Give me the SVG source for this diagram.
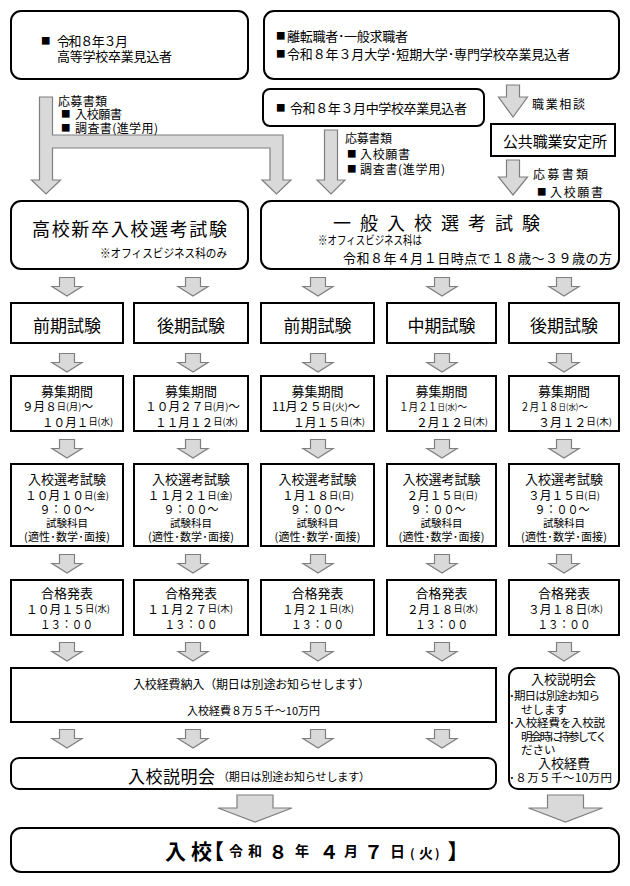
<svg xmlns="http://www.w3.org/2000/svg" xmlns:xlink="http://www.w3.org/1999/xlink" width="630" height="886" viewBox="0 0 630 886">
<style>
text{font-family:"Noto Sans CJK JP","Noto Sans",sans-serif;fill:#000;dominant-baseline:central;font-size:12px}
.box{fill:#fff;stroke:#000;stroke-width:2}
.arr{fill:#d9d9d9;stroke:#7f7f7f;stroke-width:1.2}
.m{text-anchor:middle}
.st{font-size:17px}
.t13{font-size:13px}
.d{font-size:12px}
.dn{font-size:11px}
.s{font-size:9.5px}
.sn{font-size:8.5px}
.sq{font-size:9.5px}
.big{font-size:18px}
.fin{font-weight:bold;font-size:14px}
.br{font-size:21px;font-feature-settings:"palt"}
.dg{font-size:19px}
</style>
<defs>
<path id="sa" class="arr" d="M-7.5,0H7.5V9H15L0,18.5L-15,9H-7.5Z"/>
<path id="ba" class="arr" d="M-18,0H18V13H37L0,27L-37,13H-18Z"/>
</defs>
<rect width="630" height="886" fill="#fff"/>

<g id="connectors">
<path class="arr" d="M39.5,97H52.5V135H283V180H291L276.5,194L262,180H270V148H52.5V180H60.5L46,194L31.5,180H39.5Z"/>
<path class="arr" d="M324.5,130H337.5V180H345L331,194L317,180H324.5Z"/>
<path class="arr" d="M506.5,85H519.5V97H527.5L513,117L498.5,97H506.5Z"/>
<path class="arr" d="M506.5,160H519.5V177H527.5L513,195L498.5,177H506.5Z"/>
<use xlink:href="#sa" x="67" y="277.5"/><use xlink:href="#sa" x="193" y="277.5"/><use xlink:href="#sa" x="318" y="277.5"/><use xlink:href="#sa" x="442" y="277.5"/><use xlink:href="#sa" x="564" y="277.5"/>
<use xlink:href="#sa" x="67" y="353.5"/><use xlink:href="#sa" x="193" y="353.5"/><use xlink:href="#sa" x="318" y="353.5"/><use xlink:href="#sa" x="442" y="353.5"/><use xlink:href="#sa" x="564" y="353.5"/>
<use xlink:href="#sa" x="67" y="439.5"/><use xlink:href="#sa" x="193" y="439.5"/><use xlink:href="#sa" x="318" y="439.5"/><use xlink:href="#sa" x="442" y="439.5"/><use xlink:href="#sa" x="564" y="439.5"/>
<use xlink:href="#sa" x="67" y="554.5"/><use xlink:href="#sa" x="193" y="554.5"/><use xlink:href="#sa" x="318" y="554.5"/><use xlink:href="#sa" x="442" y="554.5"/><use xlink:href="#sa" x="564" y="554.5"/>
<use xlink:href="#sa" x="67" y="642.5"/><use xlink:href="#sa" x="193" y="642.5"/><use xlink:href="#sa" x="318" y="642.5"/><use xlink:href="#sa" x="442" y="642.5"/><use xlink:href="#sa" x="564" y="642.5"/>
<use xlink:href="#sa" x="67" y="729.5"/><use xlink:href="#sa" x="193" y="729.5"/><use xlink:href="#sa" x="318" y="729.5"/><use xlink:href="#sa" x="442" y="729.5"/>
<use xlink:href="#ba" x="255" y="795"/><use xlink:href="#ba" x="565.5" y="795"/>
<text x="58" y="100" textLength="49">応募書類</text>
<text y="112.5"><tspan class="sq" x="61">■</tspan><tspan x="75" textLength="47">入校願書</tspan></text>
<text y="127"><tspan class="sq" x="61">■</tspan><tspan x="75" textLength="83">調査書(進学用)</tspan></text>
<text x="345" y="137" textLength="47">応募書類</text>
<text y="153"><tspan class="sq" x="347">■</tspan><tspan x="360" textLength="50">入校願書</tspan></text>
<text y="168"><tspan class="sq" x="347">■</tspan><tspan x="360" textLength="85">調査書(進学用)</tspan></text>
<text x="532" y="103" textLength="53">職業相談</text>
<text x="533" y="173" textLength="55">応募書類</text>
<text y="191"><tspan class="sq" x="537">■</tspan><tspan x="550" textLength="53">入校願書</tspan></text>
</g>

<g id="n-koukou">
<rect class="box" x="11" y="11" width="237" height="68" rx="10"/>
<text class="t13" y="40"><tspan class="sq" x="41">■</tspan><tspan x="57" textLength="71">令和８年３月</tspan></text>
<text class="t13" x="57" y="55.5" textLength="115">高等学校卒業見込者</text>
</g>
<g id="n-ippan">
<rect class="box" x="264" y="11" width="355" height="68" rx="10"/>
<text class="t13" y="35"><tspan class="sq" x="276">■</tspan><tspan x="287" textLength="121">離転職者･一般求職者</tspan></text>
<text class="t13" y="53"><tspan class="sq" x="276">■</tspan><tspan x="287" textLength="283">令和８年３月大学･短期大学･専門学校卒業見込者</tspan></text>
</g>
<g id="n-chugaku">
<rect class="box" x="263" y="89" width="221" height="37" rx="7"/>
<text class="t13" y="107"><tspan class="sq" x="276">■</tspan><tspan x="290" textLength="177">令和８年３月中学校卒業見込者</tspan></text>
</g>
<g id="n-hellowork">
<rect class="box" x="491" y="124" width="124" height="32"/>
<text x="503" y="140" style="font-size:15px" textLength="104">公共職業安定所</text>
</g>

<g id="n-h1">
<rect class="box" x="11" y="201" width="237" height="68" rx="10"/>
<text class="big" x="32" y="228" textLength="195">高校新卒入校選考試験</text>
<text x="100" y="252" textLength="127" lengthAdjust="spacingAndGlyphs">※オフィスビジネス科のみ</text>
</g>
<g id="n-h2">
<rect class="box" x="261" y="201" width="358" height="68" rx="10"/>
<text class="big" x="333" y="222" textLength="207">一般入校選考試験</text>
<text x="318" y="239.5" textLength="104" lengthAdjust="spacingAndGlyphs">※オフィスビジネス科は</text>
<text class="t13" x="343" y="257" textLength="269">令和８年４月１日時点で１８歳～３９歳の方</text>
</g>

<g id="n-s1"><rect class="box" x="11" y="303" width="112" height="40"/><text class="st m" x="67" y="324.5">前期試験</text></g>
<g id="n-s2"><rect class="box" x="134" y="303" width="114" height="40"/><text class="st m" x="191" y="324.5">後期試験</text></g>
<g id="n-s3"><rect class="box" x="261" y="303" width="113" height="40"/><text class="st m" x="317.5" y="324.5">前期試験</text></g>
<g id="n-s4"><rect class="box" x="387" y="303" width="109" height="40"/><text class="st m" x="441.5" y="324.5">中期試験</text></g>
<g id="n-s5"><rect class="box" x="509" y="303" width="110" height="40"/><text class="st m" x="564" y="324.5">後期試験</text></g>

<g id="n-b1"><rect class="box" x="11" y="376" width="112" height="55"/>
<text class="t13 m" x="67" y="390">募集期間</text>
<text class="d" x="22" y="405.5" textLength="71" lengthAdjust="spacingAndGlyphs">９月８<tspan class="s">日(月)</tspan>～</text>
<text class="d" x="42" y="421" textLength="71" lengthAdjust="spacingAndGlyphs">１０月１<tspan class="s">日(水)</tspan></text></g>
<g id="n-b2"><rect class="box" x="134" y="376" width="114" height="55"/>
<text class="t13 m" x="191" y="390">募集期間</text>
<text class="d" x="145" y="405.5" textLength="95" lengthAdjust="spacingAndGlyphs">１０月２７<tspan class="s">日(月)</tspan>～</text>
<text class="d" x="155" y="421" textLength="83" lengthAdjust="spacingAndGlyphs">１１月１２<tspan class="s">日(水)</tspan></text></g>
<g id="n-b3"><rect class="box" x="261" y="376" width="113" height="55"/>
<text class="t13 m" x="317.5" y="390">募集期間</text>
<text class="d" x="272" y="405.5" textLength="88" lengthAdjust="spacingAndGlyphs">11月２５<tspan class="s">日(火)</tspan>～</text>
<text class="d" x="293" y="421" textLength="72" lengthAdjust="spacingAndGlyphs">１月１５<tspan class="s">日(木)</tspan></text></g>
<g id="n-b4"><rect class="box" x="387" y="376" width="109" height="55"/>
<text class="t13 m" x="441.5" y="390">募集期間</text>
<text class="dn" x="399" y="405.5" textLength="68" lengthAdjust="spacingAndGlyphs">１月２１<tspan class="sn">日(水)</tspan>～</text>
<text class="d" x="416" y="421" textLength="72" lengthAdjust="spacingAndGlyphs">２月１２<tspan class="s">日(木)</tspan></text></g>
<g id="n-b5"><rect class="box" x="509" y="376" width="110" height="55"/>
<text class="t13 m" x="564" y="390">募集期間</text>
<text class="dn" x="520" y="405.5" textLength="68" lengthAdjust="spacingAndGlyphs">２月１８<tspan class="sn">日(水)</tspan>～</text>
<text class="d" x="538" y="421" textLength="74" lengthAdjust="spacingAndGlyphs">３月１２<tspan class="s">日(木)</tspan></text></g>

<g id="n-e1"><rect class="box" x="11" y="464" width="112" height="82"/>
<text class="t13 m" x="67" y="478">入校選考試験</text>
<text class="d m" x="67" y="494.5" textLength="84" lengthAdjust="spacingAndGlyphs">１０月１０<tspan class="s">日(金)</tspan></text>
<text class="d m" x="67" y="508.5" textLength="55" lengthAdjust="spacingAndGlyphs">９：００～</text>
<text class="m" x="67" y="522" style="font-size:10.5px">試験科目</text>
<text class="m" x="67" y="536" textLength="86" style="font-size:11px">(適性･数学･面接)</text></g>
<g id="n-e2"><rect class="box" x="134" y="464" width="114" height="82"/>
<text class="t13 m" x="191" y="478">入校選考試験</text>
<text class="d m" x="190" y="494.5" textLength="85" lengthAdjust="spacingAndGlyphs">１１月２１<tspan class="s">日(金)</tspan></text>
<text class="d m" x="191" y="508.5" textLength="55" lengthAdjust="spacingAndGlyphs">９：００～</text>
<text class="m" x="191" y="522" style="font-size:10.5px">試験科目</text>
<text class="m" x="191" y="536" textLength="86" style="font-size:11px">(適性･数学･面接)</text></g>
<g id="n-e3"><rect class="box" x="261" y="464" width="113" height="82"/>
<text class="t13 m" x="317.5" y="478">入校選考試験</text>
<text class="d m" x="318" y="494.5" textLength="72" lengthAdjust="spacingAndGlyphs">１月１８<tspan class="s">日(日)</tspan></text>
<text class="d m" x="317.5" y="508.5" textLength="55" lengthAdjust="spacingAndGlyphs">９：００～</text>
<text class="m" x="317.5" y="522" style="font-size:10.5px">試験科目</text>
<text class="m" x="317.5" y="536" textLength="86" style="font-size:11px">(適性･数学･面接)</text></g>
<g id="n-e4"><rect class="box" x="387" y="464" width="109" height="82"/>
<text class="t13 m" x="441.5" y="478">入校選考試験</text>
<text class="d m" x="442" y="494.5" textLength="71" lengthAdjust="spacingAndGlyphs">２月１５<tspan class="s">日(日)</tspan></text>
<text class="d m" x="438" y="508.5" textLength="55" lengthAdjust="spacingAndGlyphs">９：００～</text>
<text class="m" x="441.5" y="522" style="font-size:10.5px">試験科目</text>
<text class="m" x="441.5" y="536" textLength="86" style="font-size:11px">(適性･数学･面接)</text></g>
<g id="n-e5"><rect class="box" x="509" y="464" width="110" height="82"/>
<text class="t13 m" x="564" y="478">入校選考試験</text>
<text class="d m" x="564" y="494.5" textLength="72" lengthAdjust="spacingAndGlyphs">３月１５<tspan class="s">日(日)</tspan></text>
<text class="d m" x="562" y="508.5" textLength="55" lengthAdjust="spacingAndGlyphs">９：００～</text>
<text class="m" x="564" y="522" style="font-size:10.5px">試験科目</text>
<text class="m" x="564" y="536" textLength="86" style="font-size:11px">(適性･数学･面接)</text></g>

<g id="n-p1"><rect class="box" x="11" y="580" width="112" height="55"/>
<text class="t13 m" x="67" y="592">合格発表</text>
<text class="d m" x="68" y="608" textLength="84" lengthAdjust="spacingAndGlyphs">１０月１５<tspan class="s">日(水)</tspan></text>
<text class="d m" x="66.5" y="623" textLength="53" lengthAdjust="spacingAndGlyphs">１３：００</text></g>
<g id="n-p2"><rect class="box" x="134" y="580" width="114" height="55"/>
<text class="t13 m" x="191" y="592">合格発表</text>
<text class="d m" x="190" y="608" textLength="86" lengthAdjust="spacingAndGlyphs">１１月２７<tspan class="s">日(木)</tspan></text>
<text class="d m" x="191" y="623" textLength="53" lengthAdjust="spacingAndGlyphs">１３：００</text></g>
<g id="n-p3"><rect class="box" x="261" y="580" width="113" height="55"/>
<text class="t13 m" x="317.5" y="592">合格発表</text>
<text class="d m" x="318" y="608" textLength="72" lengthAdjust="spacingAndGlyphs">１月２１<tspan class="s">日(水)</tspan></text>
<text class="d m" x="317.5" y="623" textLength="53" lengthAdjust="spacingAndGlyphs">１３：００</text></g>
<g id="n-p4"><rect class="box" x="387" y="580" width="109" height="55"/>
<text class="t13 m" x="441.5" y="592">合格発表</text>
<text class="d m" x="442.5" y="608" textLength="71" lengthAdjust="spacingAndGlyphs">２月１８<tspan class="s">日(水)</tspan></text>
<text class="d m" x="441.5" y="623" textLength="53" lengthAdjust="spacingAndGlyphs">１３：００</text></g>
<g id="n-p5"><rect class="box" x="509" y="580" width="110" height="55"/>
<text class="t13 m" x="564" y="592">合格発表</text>
<text class="d m" x="565.5" y="608" textLength="75" lengthAdjust="spacingAndGlyphs">３月１８日<tspan class="s">(水)</tspan></text>
<text class="d m" x="564" y="623" textLength="53" lengthAdjust="spacingAndGlyphs">１３：００</text></g>

<g id="n-fee">
<rect class="box" x="11" y="668" width="485" height="54"/>
<text x="133" y="683.5" textLength="237">入校経費納入（期日は別途お知らせします）</text>
<text x="187" y="710" textLength="133" style="font-size:11px">入校経費８万５千～10万円</text>
</g>
<g id="n-setsumei">
<rect class="box" x="11" y="758" width="485" height="31" rx="8"/>
<text x="128" y="775" textLength="87" style="font-size:17px">入校説明会</text>
<text x="218" y="775.5" textLength="152" style="font-size:11px">（期日は別途お知らせします）</text>
</g>
<g id="n-setsumei2">
<rect class="box" x="509" y="668" width="110" height="121" rx="9"/>
<text class="t13 m" x="563.5" y="678.5">入校説明会</text>
<text x="509" y="695" textLength="91" style="font-size:11.5px">･期日は別途お知ら</text>
<text x="521" y="708.5" style="font-size:11.5px">せします</text>
<text x="509" y="722" textLength="96" style="font-size:11.5px">･入校経費を入校説</text>
<text x="521" y="736" textLength="86" style="font-size:11.5px">明会時に持参してく</text>
<text x="521" y="748.5" style="font-size:11.5px">ださい</text>
<text class="t13 m" x="564" y="762">入校経費</text>
<text x="509" y="777" textLength="103" style="font-size:11.5px">･８万５千～10万円</text>
</g>
<g id="n-nyuko">
<rect class="box" x="11" y="828" width="608" height="44" rx="10"/>
<text class="fin" y="849.5"><tspan x="165" style="font-size:21px">入</tspan><tspan x="191" style="font-size:21px">校</tspan><tspan class="br" x="213">【</tspan><tspan x="229">令</tspan><tspan x="248">和</tspan><tspan class="dg" x="268.5">８</tspan><tspan x="295">年</tspan><tspan class="dg" x="319.5">４</tspan><tspan x="344">月</tspan><tspan class="dg" x="364">７</tspan><tspan x="390" style="font-size:15px">日</tspan><tspan x="410" dy="2" style="font-size:12px">(</tspan><tspan x="419" style="font-size:14px">火</tspan><tspan x="435" style="font-size:12px">)</tspan><tspan class="br" x="448" dy="-2">】</tspan></text>
</g>
</svg>
